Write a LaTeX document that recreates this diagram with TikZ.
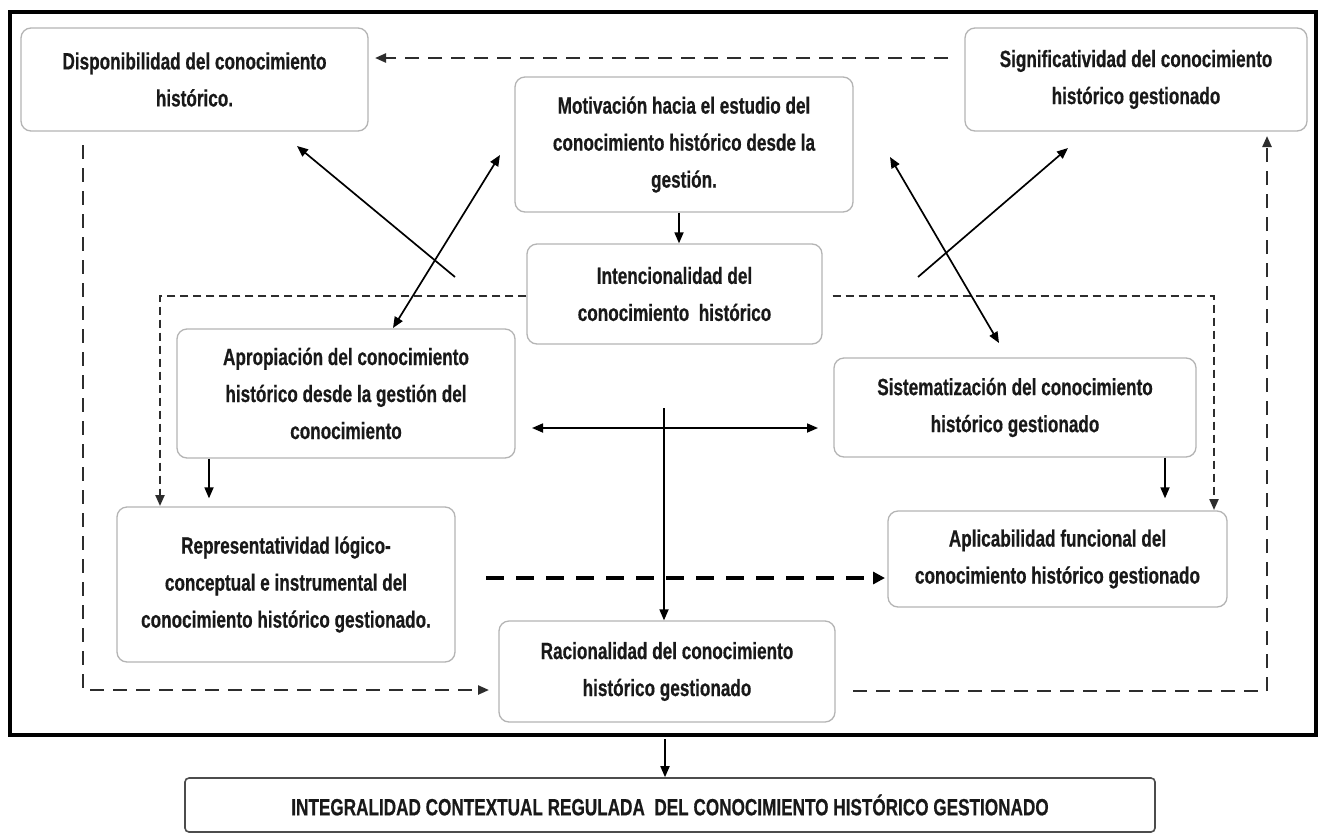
\documentclass[tikz,border=0pt]{standalone}
\usepackage{fontspec}
\setmainfont{Liberation Sans}[FakeStretch=0.73, BoldFeatures={FakeBold=0.5}]
\usetikzlibrary{arrows.meta,calc}
\definecolor{boxgray}{RGB}{180,180,180}
\definecolor{textdark}{RGB}{25,25,25}
\definecolor{dashgray}{RGB}{45,45,45}
\begin{document}
\begin{tikzpicture}[x=1pt,y=-1pt,
  box/.style={draw=boxgray, line width=1.3pt, rounded corners=10pt, inner sep=0pt,
    align=center, font=\fontsize{23.5}{37}\selectfont\bfseries, text=textdark},
  tip/.style={-{Triangle[length=11pt,width=9pt]}},
  arr/.style={line width=1.7pt, tip},
  darr/.style={line width=1.7pt, {Triangle[length=11pt,width=9pt]}-{Triangle[length=11pt,width=9pt]}},
  longdash/.style={line width=2.3pt, draw=dashgray, dash pattern=on 14pt off 9pt, tip},
  shortdash/.style={line width=2.2pt, draw=dashgray, dash pattern=on 8pt off 5pt, tip},
  thickdash/.style={line width=4.5pt, dash pattern=on 18pt off 12pt, -{Triangle[length=12pt,width=12pt]}}
]
\useasboundingbox (0,0) rectangle (1319,833);
\fill[white] (0,0) rectangle (1319,833);

% frame
\node[draw, line width=4.5pt, minimum width=1306pt, minimum height=723pt, inner sep=0pt] (frame) at (663,373.5) {};

% boxes
\node[box, minimum width=347pt, minimum height=103pt] (disp) at (194.5,79.5)
  {Disponibilidad del conocimiento\\histórico.};
\node[box, minimum width=342pt, minimum height=103pt] (sig) at (1136,79.5)
  {Significatividad del conocimiento\\histórico gestionado};
\node[box, minimum width=338pt, minimum height=135pt] (mot) at (684,144.5)
  {Motivación hacia el estudio del\\conocimiento histórico desde la\\gestión.};
\node[box, minimum width=295pt, minimum height=100pt] (int) at (674.5,294)
  {Intencionalidad del\\conocimiento~ histórico};
\node[box, minimum width=338pt, minimum height=129pt] (apr) at (346,393.5)
  {Apropiación del conocimiento\\histórico desde la gestión del\\conocimiento};
\node[box, minimum width=362pt, minimum height=99pt] (sis) at (1015,407.5)
  {Sistematización del conocimiento\\histórico gestionado};
\node[box, minimum width=338pt, minimum height=155pt] (rep) at (286,584.5)
  {Representatividad lógico-\\conceptual e instrumental del\\conocimiento histórico gestionado.};
\node[box, minimum width=339pt, minimum height=96pt] (apl) at (1057.5,559)
  {Aplicabilidad funcional del\\conocimiento histórico gestionado};
\node[box, minimum width=336pt, minimum height=101pt] (rac) at (667,671.5)
  {Racionalidad del conocimiento\\histórico gestionado};
\node[box, draw=black!70, line width=1.6pt, rounded corners=4pt, minimum width=970pt, minimum height=54pt] (integ) at (670,805)
  {INTEGRALIDAD CONTEXTUAL REGULADA~ DEL CONOCIMIENTO HISTÓRICO GESTIONADO};

% free ends
\coordinate (a1) at (948,58);
\coordinate (a1e) at (375,58);
\coordinate (l1) at (83,145);
\coordinate (l2) at (83,690);
\coordinate (l3) at (489,690);
\coordinate (r1) at (853,691);
\coordinate (r2) at (1267,691);
\coordinate (r3) at (1267,136);
\coordinate (s1) at (160,296);
\coordinate (s2) at (160,506);
\coordinate (t1) at (1214,296);
\coordinate (t2) at (1214,510);
\coordinate (d1) at (455,277);
\coordinate (d1e) at (297,146);
\coordinate (d2) at (393,328);
\coordinate (d2e) at (500,155);
\coordinate (d3) at (890,157);
\coordinate (d3e) at (999,343);
\coordinate (d4) at (918,277);
\coordinate (d4e) at (1068,148);
\coordinate (h1) at (532,428);
\coordinate (h2) at (818,428);
\coordinate (v1) at (664,408);
\coordinate (x8) at (679,0);
\coordinate (x13) at (209,0);
\coordinate (x14) at (1165,0);
\coordinate (k1) at (486,578);
\coordinate (k2) at (885,578);
\coordinate (x16) at (665,0);

% dashed connectors
\draw[longdash] (a1) -- (a1e);
\draw[longdash] (l1) -- (l2) -- (l3);
\draw[longdash] (r1) -- (r2) -- (r3);
\draw[shortdash] (int.west |- s1) -- (s1) -- (s2);
\draw[shortdash] (int.east |- t1) ++(10,0) -- (t1) -- (t2);
\draw[thickdash] (k1) -- (k2);

% solid connectors
\draw[arr] (d1) -- (d1e);
\draw[darr] (d2) -- (d2e);
\draw[darr] (d3) -- (d3e);
\draw[arr] (d4) -- (d4e);
\draw[darr] (h1) -- (h2);
\draw[arr] (v1) -- (v1 |- rac.north);
\draw[arr] (x8 |- mot.south) -- (x8 |- int.north);
\draw[arr, shorten >=8pt] (x13 |- apr.south) -- (x13 |- rep.north);
\draw[arr, shorten >=12pt] (x14 |- sis.south) -- (x14 |- apl.north);
\draw[arr] (x16 |- frame.south) ++(0,2) -- (x16 |- integ.north);
\end{tikzpicture}
\end{document}
